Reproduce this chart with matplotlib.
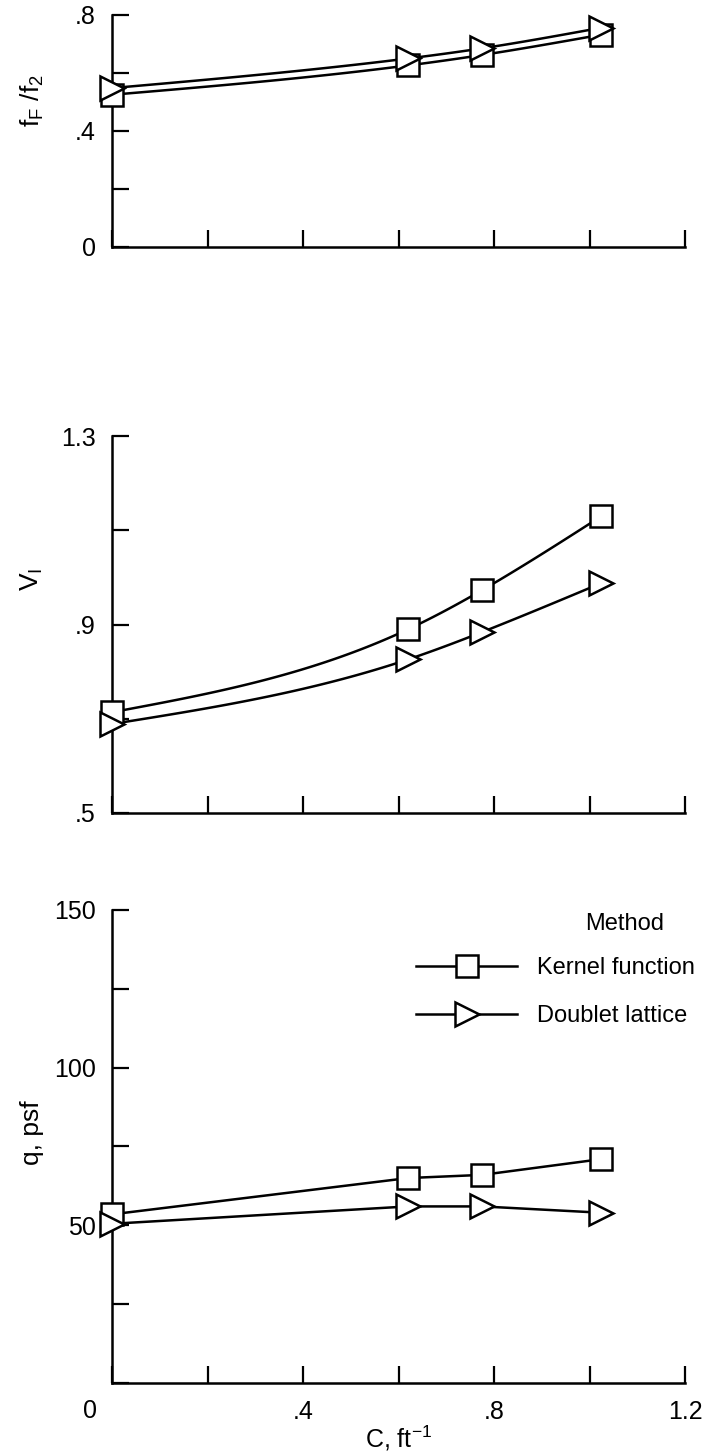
import matplotlib
matplotlib.use('Agg')
import matplotlib.pyplot as plt
import numpy as np

plt.rcParams['font.family'] = ['Liberation Sans', 'DejaVu Sans']
plt.rcParams['mathtext.fontset'] = 'custom'
plt.rcParams['mathtext.rm'] = 'Liberation Sans'
plt.rcParams['mathtext.it'] = 'Liberation Sans'

# curvature parameter C, ft^-1
c_vals = [0.0, 0.62, 0.775, 1.025]

# frequency ratio fF/f2
ff_kernel = [0.525, 0.626, 0.662, 0.732]
ff_doublet = [0.548, 0.650, 0.685, 0.756]

# flutter speed index VI
vi_kernel = [0.714, 0.890, 0.973, 1.130]
vi_doublet = [0.689, 0.826, 0.884, 0.988]

# dynamic pressure q, psf
q_kernel = [53.5, 65.0, 66.0, 71.0]
q_doublet = [50.5, 56.0, 56.0, 54.0]

x_ticks = [0, 0.2, 0.4, 0.6, 0.8, 1.0, 1.2]
x_ticklabels = ['', '', '.4', '', '.8', '', '1.2']


# faired curve through the points (natural cubic spline)
def fair(x, y, n=120):
    x = np.asarray(x, float)
    y = np.asarray(y, float)
    h = np.diff(x)
    m = len(x)
    A = np.zeros((m, m))
    b = np.zeros(m)
    A[0, 0] = A[-1, -1] = 1
    for i in range(1, m - 1):
        A[i, i - 1] = h[i - 1]
        A[i, i] = 2 * (h[i - 1] + h[i])
        A[i, i + 1] = h[i]
        b[i] = 3 * ((y[i + 1] - y[i]) / h[i] - (y[i] - y[i - 1]) / h[i - 1])
    c = np.linalg.solve(A, b)
    bc = (y[1:] - y[:-1]) / h - h * (2 * c[:-1] + c[1:]) / 3
    d = (c[1:] - c[:-1]) / (3 * h)
    xs = np.linspace(x[0], x[-1], n)
    idx = np.clip(np.searchsorted(x, xs) - 1, 0, m - 2)
    dx = xs - x[idx]
    ys = y[idx] + bc[idx] * dx + c[idx] * dx ** 2 + d[idx] * dx ** 3
    return xs, ys


def style_axes(ax, ylim, yticks, ylabels, xlabels):
    ax.set_xlim(0, 1.2)
    ax.set_ylim(*ylim)
    ax.spines['top'].set_visible(False)
    ax.spines['right'].set_visible(False)
    for s in ['left', 'bottom']:
        ax.spines[s].set_linewidth(1.8)
    ax.set_xticks(x_ticks)
    ax.set_xticklabels(xlabels)
    ax.set_yticks(yticks)
    ax.set_yticklabels(ylabels)
    ax.tick_params(direction='in', length=12.5, width=1.6, labelsize=18)
    ax.tick_params(axis='y', pad=12)
    ax.tick_params(axis='x', pad=12)


def draw(ax, k, d):
    xs, ys = fair(c_vals, k)
    ax.plot(xs, ys, color='black', lw=1.8, zorder=2)
    xs, ys = fair(c_vals, d)
    ax.plot(xs, ys, color='black', lw=1.8, zorder=2)
    ax.plot(c_vals, k, ls='none', marker='s', ms=16.5, mfc='white', mec='black',
            mew=1.8, zorder=3, clip_on=False)
    ax.plot(c_vals, d, ls='none', marker='>', ms=17, mfc='white', mec='black',
            mew=1.8, zorder=4, clip_on=False)


fig = plt.figure(figsize=(7.05, 14.52), dpi=100)
ax1 = fig.add_axes([0.1593, 0.8299, 0.8123, 0.1598])
ax2 = fig.add_axes([0.1593, 0.4401, 0.8123, 0.2596])
ax3 = fig.add_axes([0.1593, 0.0475, 0.8123, 0.3258])

draw(ax1, ff_kernel, ff_doublet)
style_axes(ax1, (0, 0.8), [0, 0.2, 0.4, 0.6, 0.8], ['0', '', '.4', '', '.8'], [''] * 7)
ax1.set_ylabel('f$_\\mathregular{F}$ /f$_\\mathregular{2}$', fontsize=19, va='center')
ax1.yaxis.set_label_coords(-0.14, 0.63)

draw(ax2, vi_kernel, vi_doublet)
style_axes(ax2, (0.5, 1.3), [0.5, 0.7, 0.9, 1.1, 1.3], ['.5', '', '.9', '', '1.3'], [''] * 7)
ax2.set_ylabel('V$_\\mathregular{I}$', fontsize=19, va='center')
ax2.yaxis.set_label_coords(-0.14, 0.62)

ax3.plot(c_vals, q_kernel, color='black', lw=1.8, marker='s', ms=16.5, mfc='white',
         mec='black', mew=1.8, label='Kernel function', clip_on=False, zorder=3)
ax3.plot(c_vals, q_doublet, color='black', lw=1.8, marker='>', ms=17, mfc='white',
         mec='black', mew=1.8, label='Doublet lattice', clip_on=False, zorder=4)
style_axes(ax3, (0, 150), [0, 25, 50, 75, 100, 125, 150],
           ['', '', '50', '', '100', '', '150'], x_ticklabels)
ax3.set_ylabel('q, psf', fontsize=19, va='center')
ax3.yaxis.set_label_coords(-0.14, 0.53)
ax3.set_xlabel('C, ft$^{-1}$', fontsize=18, labelpad=0)
# the origin label sits left of the axis corner
ax3.annotate('0', xy=(0, 0), xycoords='axes fraction', xytext=(-16, -20),
             textcoords='offset points', ha='center', va='center', fontsize=18)

leg = ax3.legend(loc='upper left', bbox_to_anchor=(0.53, 0.90), frameon=False,
                 fontsize=17, handlelength=4.3, handletextpad=0.85,
                 labelspacing=1.1, borderpad=0, borderaxespad=0, numpoints=1)
ax3.text(0.895, 0.97, 'Method', transform=ax3.transAxes, ha='center', va='center',
         fontsize=17)

fig.savefig('out.png', dpi=100)
